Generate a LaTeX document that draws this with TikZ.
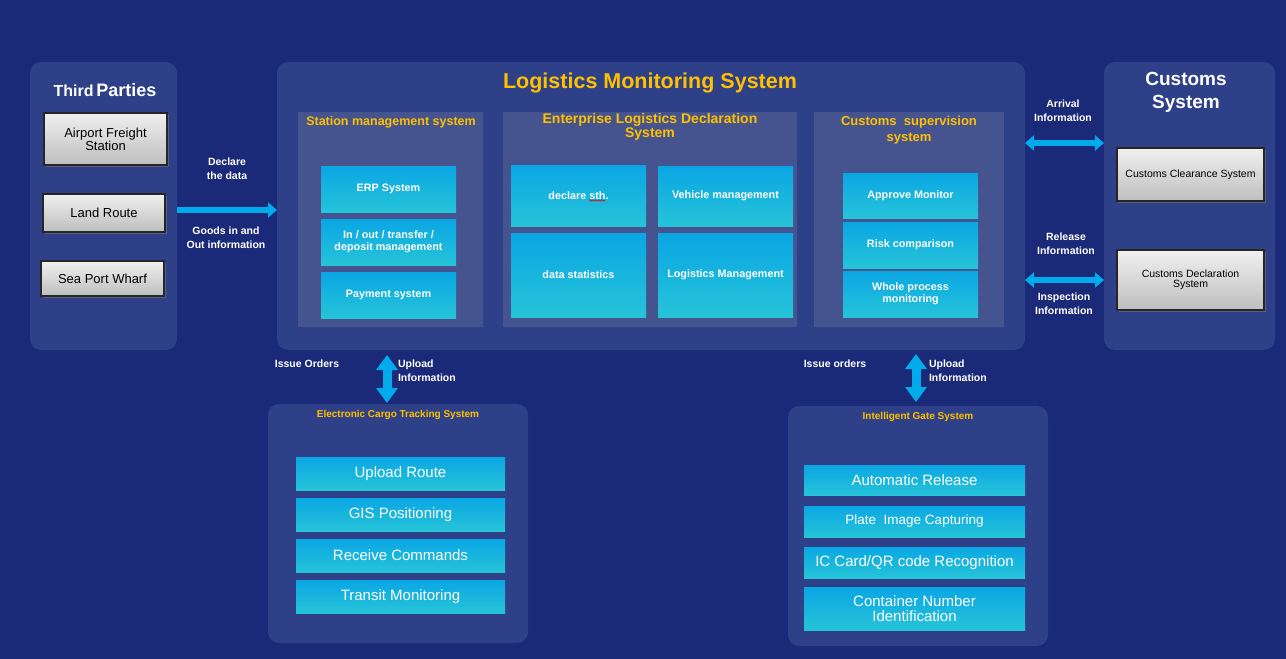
\documentclass[tikz,border=0pt]{standalone}
\usepackage{fontspec}
\setmainfont{Liberation Sans}
\usetikzlibrary{arrows.meta,shadows,decorations.pathmorphing,calc}
\definecolor{bg}{RGB}{27,42,120}
\definecolor{panel}{RGB}{46,64,135}
\definecolor{subp}{RGB}{69,84,143}
\definecolor{cyTop}{RGB}{10,166,228}
\definecolor{cyBot}{RGB}{38,196,216}
\definecolor{orng}{RGB}{255,192,0}
\definecolor{arr}{RGB}{0,170,235}
\definecolor{gTop}{RGB}{240,240,240}
\definecolor{gBot}{RGB}{190,190,190}
\newcommand\bx[7]{\node[#6, minimum width={(#4-#2)*1pt}, minimum height={(#5-#3)*1pt}] (#1) at ({(#2+#4)/2},{(#3+#5)/2}) {#7};}
\newcommand\fs[2]{\fontsize{#1}{#2}\selectfont}
\begin{document}
\begin{tikzpicture}[x=1pt,y=-1pt,
  base/.style={inner sep=0pt, outer sep=0pt, align=center},
  panelbox/.style={base, fill=panel, rounded corners=11pt},
  subbox/.style={base, fill=subp},
  cybox/.style={base, top color=cyTop, bottom color=cyBot, text=white, font=\bfseries\fs{10.8}{12}},
  cybig/.style={base, top color=cyTop, bottom color=cyBot, text=white, font=\fs{15}{15}},
  graybox/.style={base, top color=gTop, bottom color=gBot, draw=black!85, line width=1.2pt, text=black,
     drop shadow={shadow xshift=1.5pt, shadow yshift=-1.5pt, opacity=.5}},
  ttl/.style={base, text=orng, font=\bfseries},
  wttl/.style={base, text=white, font=\bfseries},
  lbl/.style={base, text=white, font=\bfseries\fs{10.5}{14}},
  arrH/.style={draw=arr, line width=6pt, -{Triangle[length=9pt,width=15pt]}},
  arrD/.style={draw=arr, line width=6pt, {Triangle[length=9pt,width=15pt]}-{Triangle[length=9pt,width=15pt]}},
  arrV/.style={draw=arr, line width=9pt, {Triangle[length=15pt,width=21pt]}-{Triangle[length=15pt,width=21pt]}}
]
\fill[bg] (0,0) rectangle (1286,659);
\useasboundingbox (0,0) rectangle (1286,659);

% panels
\bx{tp}{30}{62}{177}{350}{panelbox}{}
\bx{lms}{277}{62}{1025}{350}{panelbox}{}
\bx{cs}{1104}{62}{1275}{350}{panelbox}{}
\bx{ects}{268}{404}{528}{643}{panelbox}{}
\bx{igs}{788}{406}{1048}{646}{panelbox}{}

% sub panels
\bx{sms}{298}{112}{483}{327}{subbox}{}
\bx{eld}{503}{112}{797}{327}{subbox}{}
\bx{csup}{814}{112}{1004}{327}{subbox}{}

% titles
\node[wttl] (tpT) at (105,90) {{\fs{16}{18}Third} {\fs{18}{18}Parties}};
\node[ttl, font=\bfseries\fs{21.5}{24}] (lmsT) at (650,83) {Logistics Monitoring System};
\node[ttl, font=\bfseries\fs{12.5}{14}] (smsT) at (391,122) {Station management system};
\node[ttl, font=\bfseries\fs{14}{14}] (eldT) at (650,126.5) {Enterprise Logistics Declaration\\System};
\node[ttl, font=\bfseries\fs{13}{16}] (csupT) at (909,130) {Customs\ \ supervision\\system};
\node[wttl, font=\bfseries\fs{19}{23}] (csT) at (1186,92) {Customs\\System};
\node[ttl, font=\bfseries\fs{10}{12}] (ectsT) at (398,415) {Electronic Cargo Tracking System};
\node[ttl, font=\bfseries\fs{10}{12}] (igsT) at (918,417) {Intelligent Gate System};

% third parties
\bx{afs}{44}{113}{167}{165}{graybox, font=\fs{13}{13}}{Airport Freight\\Station}
\bx{land}{43}{194}{165}{232}{graybox, font=\fs{13}{13}}{Land Route}
\bx{sea}{41}{261}{164}{296}{graybox, font=\fs{13}{13}}{Sea Port Wharf}

% customs system
\bx{ccs}{1117}{148}{1264}{201}{graybox, font=\fs{10.5}{10.5}}{Customs Clearance System}
\bx{cds}{1117}{250}{1264}{310}{graybox, font=\fs{10.5}{10}}{Customs Declaration\\System}

% station management
\bx{erp}{321}{166}{456}{212}{cybox}{ERP System}
\bx{inout}{321}{219}{456}{265}{cybox}{In / out / transfer /\\deposit management}
\bx{pay}{321}{272}{456}{318}{cybox}{Payment system}

% enterprise logistics declaration
\bx{decl}{511}{165}{646}{226}{cybox}{declare sth.}
\bx{veh}{658}{166}{793}{226}{cybox}{Vehicle management}
\bx{stat}{511}{233}{646}{317}{cybox}{data statistics}
\bx{logm}{658}{233}{793}{317}{cybox}{Logistics Management}
\draw[red!85!black, line width=0.6pt, decorate, decoration={snake, amplitude=0.8pt, segment length=3pt}] (589,200.5) -- (605,200.5);

% customs supervision
\bx{appr}{843}{173}{978}{218}{cybox}{Approve Monitor}
\bx{risk}{843}{222}{978}{268}{cybox}{Risk comparison}
\bx{whole}{843}{271}{978}{317}{cybox}{Whole process\\monitoring}

% electronic cargo tracking
\bx{upr}{296}{457}{505}{490}{cybig}{Upload Route}
\bx{gis}{296}{498}{505}{531}{cybig}{GIS Positioning}
\bx{rcv}{296}{539}{505}{572}{cybig}{Receive Commands}
\bx{trn}{296}{580}{505}{613}{cybig}{Transit Monitoring}

% intelligent gate
\bx{auto}{804}{465}{1025}{495}{cybig}{Automatic Release}
\bx{plate}{804}{506}{1025}{537}{cybig, font=\fs{13.5}{14}}{Plate\ \ Image Capturing}
\bx{iccard}{804}{547}{1025}{578}{cybig}{IC Card/QR code Recognition}
\bx{cont}{804}{587}{1025}{630}{cybig}{Container Number\\Identification}

% connectors
\draw[arrH] (tp.east |- 0,210) -- (lms.west |- 0,210);
\draw[arrD] (lms.east |- 0,143) -- (cs.west |- 0,143);
\draw[arrD] (lms.east |- 0,280) -- (cs.west |- 0,280);
\draw[arrV] ($(lms.south -| 387,0)+(0,5)$) -- ($(ects.north -| 387,0)+(0,-1)$);
\draw[arrV] ($(lms.south -| 916,0)+(0,4)$) -- ($(igs.north -| 916,0)+(0,-4)$);

% connector labels
\node[lbl] (l1) at (227,169) {Declare\\the data};
\node[lbl] (l2) at (226,238) {Goods in and\\Out information};
\node[lbl] (l3) at (1063,111) {Arrival\\Information};
\node[lbl] (l4) at (1066,244) {Release\\Information};
\node[lbl] (l5) at (1064,304) {Inspection\\Information};
\node[lbl] (l6) at (307,364) {Issue Orders};
\node[lbl, anchor=west, align=left] (l7) at (398,371) {Upload\\Information};
\node[lbl] (l8) at (835,364) {Issue orders};
\node[lbl, anchor=west, align=left] (l9) at (929,371) {Upload\\Information};
\end{tikzpicture}
\end{document}
